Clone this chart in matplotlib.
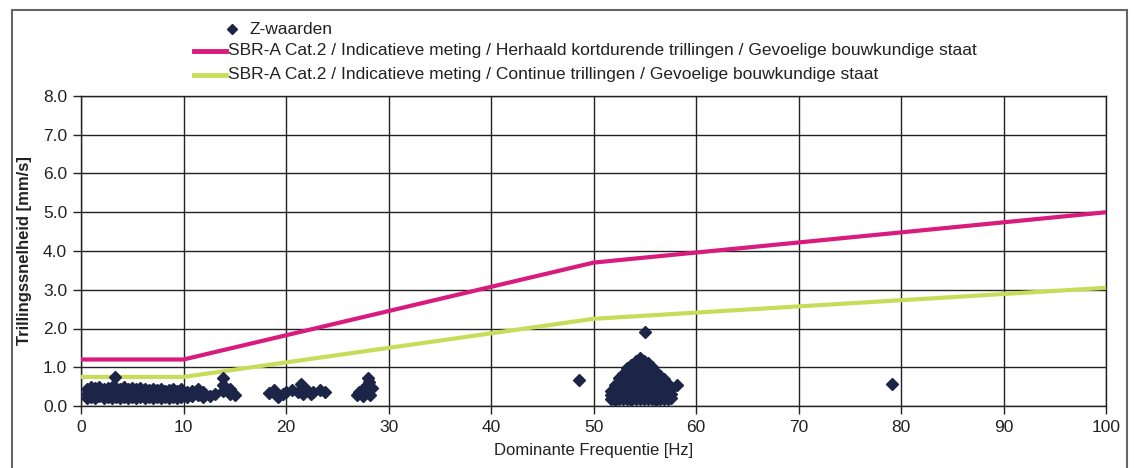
import matplotlib
matplotlib.use("Agg")
import matplotlib.pyplot as plt
from matplotlib.lines import Line2D
from matplotlib.patches import Rectangle
from matplotlib import font_manager

# ---------------- data ----------------
limit_freq = [0, 10, 50, 100]
limit_kort = [1.2, 1.2, 3.7, 5.0]      # herhaald kortdurende trillingen
limit_cont = [0.75, 0.75, 2.25, 3.05]  # continue trillingen

freq_a = [0.6, 0.6, 0.6, 1.0, 1.0, 1.0, 1.4, 1.4, 1.4, 1.8, 1.8, 1.8,
          2.2, 2.2, 2.2, 2.6, 2.6, 2.6, 3.0, 3.0, 3.0, 3.3, 3.4, 3.4, 3.4,
          3.8, 3.8, 3.8, 4.2, 4.2, 4.2, 4.6, 4.6, 4.6, 5.0, 5.0, 5.0,
          5.4, 5.4, 5.4, 5.8, 5.8, 5.8, 6.2, 6.2, 6.2, 6.6, 6.6, 6.6,
          7.0, 7.0, 7.0, 7.4, 7.4, 7.4, 7.8, 7.8, 7.8, 8.2, 8.2, 8.2,
          8.6, 8.6, 8.6, 9.0, 9.0, 9.0, 9.4, 9.4, 9.4, 9.8, 9.8, 9.8,
          10.3, 10.3, 10.8, 10.8, 11.4, 11.4, 11.9, 11.9, 12.6, 13.1,
          13.9, 13.9, 13.9, 14.5, 14.5, 15.0]
vel_a = [0.20, 0.32, 0.45, 0.24, 0.36, 0.48, 0.21, 0.33, 0.46, 0.25, 0.37, 0.50,
         0.20, 0.31, 0.44, 0.23, 0.35, 0.47, 0.21, 0.34, 0.49, 0.76, 0.24, 0.36, 0.46,
         0.20, 0.32, 0.44, 0.23, 0.35, 0.48, 0.21, 0.33, 0.45, 0.24, 0.36, 0.47,
         0.20, 0.31, 0.43, 0.22, 0.34, 0.46, 0.21, 0.32, 0.44, 0.24, 0.35, 0.42,
         0.20, 0.30, 0.43, 0.22, 0.33, 0.41, 0.21, 0.31, 0.44, 0.23, 0.34, 0.40,
         0.20, 0.30, 0.42, 0.22, 0.33, 0.45, 0.21, 0.31, 0.40, 0.23, 0.34, 0.43,
         0.22, 0.36, 0.25, 0.40, 0.28, 0.44, 0.24, 0.35, 0.27, 0.32,
         0.38, 0.55, 0.72, 0.30, 0.44, 0.28]

freq_b = [18.3, 18.8, 19.2, 19.7, 20.0, 20.6, 21.2, 21.5, 21.7, 22.0, 22.4,
          22.6, 23.3, 23.8]
vel_b = [0.33, 0.41, 0.24, 0.30, 0.36, 0.41, 0.37, 0.56, 0.30, 0.41, 0.30,
         0.37, 0.41, 0.37]

freq_c = [26.9, 27.1, 27.4, 27.5, 27.7, 27.9, 28.0, 28.1, 28.2, 28.4]
vel_c = [0.28, 0.36, 0.41, 0.25, 0.33, 0.54, 0.72, 0.62, 0.28, 0.47]

freq_single = [48.6, 55.0, 79.1]
vel_single = [0.67, 1.90, 0.57]

freq_d = [51.7, 51.7, 51.7,
          52.1, 52.1, 52.1, 52.1,
          52.5, 52.5, 52.5, 52.5, 52.5,
          52.9, 52.9, 52.9, 52.9, 52.9, 52.9,
          53.3, 53.3, 53.3, 53.3, 53.3, 53.3, 53.3,
          53.7, 53.7, 53.7, 53.7, 53.7, 53.7, 53.7, 53.7,
          54.1, 54.1, 54.1, 54.1, 54.1, 54.1, 54.1, 54.1, 54.1,
          54.5, 54.5, 54.5, 54.5, 54.5, 54.5, 54.5, 54.5, 54.5,
          54.9, 54.9, 54.9, 54.9, 54.9, 54.9, 54.9, 54.9, 54.9,
          55.3, 55.3, 55.3, 55.3, 55.3, 55.3, 55.3, 55.3,
          55.7, 55.7, 55.7, 55.7, 55.7, 55.7, 55.7,
          56.1, 56.1, 56.1, 56.1, 56.1, 56.1,
          56.5, 56.5, 56.5, 56.5, 56.5,
          56.9, 56.9, 56.9, 56.9, 56.9,
          57.3, 57.3, 57.3, 57.3,
          57.6, 57.6, 57.6,
          58.1]
vel_d = [0.18, 0.28, 0.40,
         0.16, 0.29, 0.42, 0.55,
         0.19, 0.31, 0.45, 0.58, 0.72,
         0.17, 0.30, 0.43, 0.56, 0.69, 0.82,
         0.18, 0.31, 0.44, 0.58, 0.71, 0.84, 0.98,
         0.16, 0.29, 0.42, 0.55, 0.68, 0.80, 0.93, 1.05,
         0.18, 0.31, 0.44, 0.57, 0.70, 0.83, 0.96, 1.08, 1.15,
         0.17, 0.30, 0.43, 0.56, 0.69, 0.82, 0.95, 1.08, 1.25,
         0.19, 0.32, 0.45, 0.58, 0.71, 0.84, 0.97, 1.08, 1.15,
         0.17, 0.30, 0.43, 0.56, 0.69, 0.82, 0.96, 1.10,
         0.18, 0.31, 0.44, 0.57, 0.70, 0.84, 1.00,
         0.16, 0.29, 0.42, 0.55, 0.68, 0.88,
         0.19, 0.32, 0.45, 0.58, 0.78,
         0.17, 0.30, 0.43, 0.56, 0.70,
         0.18, 0.31, 0.44, 0.58,
         0.20, 0.32, 0.45,
         0.53]

x_ticks = [0, 10, 20, 30, 40, 50, 60, 70, 80, 90, 100]
y_ticks = [0.0, 1.0, 2.0, 3.0, 4.0, 5.0, 6.0, 7.0, 8.0]

label_z = "Z-waarden"
label_kort = "SBR-A Cat.2 / Indicatieve meting / Herhaald kortdurende trillingen / Gevoelige bouwkundige staat"
label_cont = "SBR-A Cat.2 / Indicatieve meting / Continue trillingen / Gevoelige bouwkundige staat"

# ---------------- style ----------------
names = {f.name for f in font_manager.fontManager.ttflist}
fam = ["Liberation Sans Narrow"] if "Liberation Sans Narrow" in names else ["Liberation Sans"]
plt.rcParams["font.family"] = fam + ["DejaVu Sans"]

C_KORT = "#d81b7d"
C_CONT = "#c9dc5a"
C_DOT = "#1c2548"

W, H = 1134, 468
fig = plt.figure(figsize=(W / 100, H / 100), dpi=100)
fig.patch.set_facecolor("white")

def fx(px):
    return px / W

def fy(py):
    return 1 - py / H

ax = fig.add_axes([fx(81), fy(406), fx(1106) - fx(81), fy(96) - fy(406)])

ax.plot(limit_freq, limit_kort, color=C_KORT, lw=3.0, zorder=3)
ax.plot(limit_freq, limit_cont, color=C_CONT, lw=3.0, zorder=3)

for fr, vl in [(freq_a, vel_a), (freq_b, vel_b), (freq_c, vel_c),
               (freq_d, vel_d), (freq_single, vel_single)]:
    ax.plot(fr, vl, linestyle="none", marker="D", markersize=6.5,
            color=C_DOT, markeredgecolor=C_DOT, zorder=4)

ax.set_xlim(0, 100)
ax.set_ylim(0, 8)
ax.set_xticks(x_ticks)
ax.set_yticks(y_ticks)
ax.set_xticklabels([str(t) for t in x_ticks])
ax.set_yticklabels([f"{t:.1f}" for t in y_ticks])
ax.tick_params(axis="both", direction="out", length=6, width=1, labelsize=12.5,
               colors="#222222", pad=4)
ax.grid(True, color="#222222", lw=1.0)
ax.set_axisbelow(True)
for s in ax.spines.values():
    s.set_color("#222222")
    s.set_linewidth(1.0)

ax.set_xlabel("Dominante Frequentie [Hz]", fontsize=12, color="#222222", labelpad=6)
ax.set_ylabel("Trillingssnelheid [mm/s]", fontsize=12, color="#222222", labelpad=8,
              fontweight="bold")

# legend (manual placement)
fig.add_artist(Line2D([fx(232)], [fy(29)], marker="D", markersize=5, color=C_DOT,
                      linestyle="none", transform=fig.transFigure))
fig.text(fx(250), fy(29), label_z, fontsize=12.5, va="center", ha="left", color="#222222")
fig.add_artist(Line2D([fx(194), fx(226)], [fy(51), fy(51)], color=C_KORT, lw=3.5,
                      transform=fig.transFigure))
fig.text(fx(228), fy(51), label_kort, fontsize=12.5, va="center", ha="left", color="#222222")
fig.add_artist(Line2D([fx(194), fx(226)], [fy(75), fy(75)], color=C_CONT, lw=3.5,
                      transform=fig.transFigure))
fig.text(fx(228), fy(75), label_cont, fontsize=12.5, va="center", ha="left", color="#222222")

# outer frame
fig.add_artist(Rectangle((fx(12), -0.05), fx(1127) - fx(12), fy(10) + 0.05,
                         fill=False, edgecolor="#666666", lw=1.5,
                         transform=fig.transFigure))

fig.savefig("out.png", dpi=100)
